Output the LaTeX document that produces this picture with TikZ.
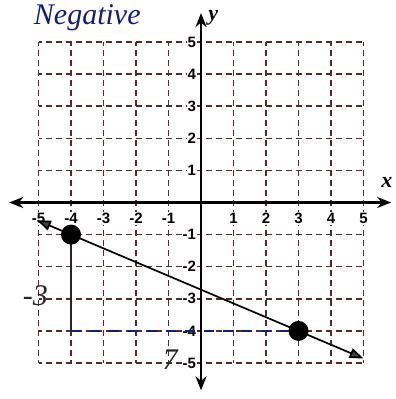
\documentclass[tikz,border=0pt]{standalone}
\usepackage{fontspec}
\setmainfont{Liberation Serif}
\setsansfont{Liberation Sans}
\usetikzlibrary{arrows.meta}
\definecolor{gridc}{rgb}{0.30,0.18,0.18}
\definecolor{inkblue}{rgb}{0.08,0.12,0.45}
\tikzset{
  gridline/.style={draw=gridc, line width=1.4pt, dash pattern=on 6pt off 4pt, dash phase=3pt},
  axisline/.style={draw=black, line width=2.4pt, -{Stealth[length=14pt,width=11pt]}},
  tick/.style={font=\fontsize{15}{15}\selectfont\sffamily\bfseries, fill=white, inner sep=1pt},
  axlabel/.style={font=\fontsize{22}{22}\selectfont\bfseries\itshape},
  dot/.style={circle, fill=black, minimum size=20pt, inner sep=0pt},
  graphline/.style={draw=black, line width=1.7pt, {Triangle[length=14pt,width=10pt,fill=black!75]}-{Triangle[length=14pt,width=10pt,fill=black!75]}},
  hand/.style={text=inkblue, font=\fontsize{30}{30}\selectfont\itshape},
  inkline/.style={draw=inkblue, line width=1.6pt}
}
\begin{document}
\begin{tikzpicture}[x=32.5pt,y=32.1pt]
\useasboundingbox (-6.185,-6.121) rectangle (5.969,6.308);
% grid
\foreach \i in {-5,...,5}{
  \draw[gridline] (\i,-5) -- (\i,5);
  \draw[gridline] (-5,\i) -- (5,\i);
}
% tick labels
\foreach \i in {-5,-4,-3,-2,-1,1,2,3,4,5}{
  \node[tick] (xt\i) at (\i,-0.5) {\i};
}
\foreach \i in {-5,-4,-3,-2,-1,1,2,3,4,5}{
  \node[tick, anchor=east] (yt\i) at (-0.12,\i) {\i};
}
% axes
\coordinate (xl) at (-5.9,0);
\coordinate (xr) at (5.85,0);
\coordinate (yb) at (0,-5.85);
\coordinate (yt) at (0,5.9);
\draw[axisline] (0,0) -- (xr);
\draw[axisline] (0,0) -- (xl);
\draw[axisline] (0,0) -- (yt);
\draw[axisline] (0,0) -- (yb);
\node[axlabel] (ylab) at (0.38,5.75) {y};
\node[axlabel] (xlab) at (5.72,0.62) {x};
% points
\node[dot] (A) at (-4,-1) {};
\node[dot] (B) at (3,-4) {};
% line through points
\coordinate (L) at (-5.05,-0.55);
\coordinate (R) at (5.0,-4.86);
\draw[graphline] (L) -- (R);
% handwritten annotations
\coordinate (C) at (-4,-4);
\draw[inkline, draw=black!85] (A) -- (C);
\draw[inkline, dash pattern=on 10pt off 9pt] (C) -- (B);
\node[hand] (neg) at (-3.5,5.75) {Negative};
\node[hand, text=black!85] (m3) at (-5.1,-2.9) {-3};
\node[hand, text=black!85] (seven) at (-0.95,-4.9) {7};
\end{tikzpicture}
\end{document}
